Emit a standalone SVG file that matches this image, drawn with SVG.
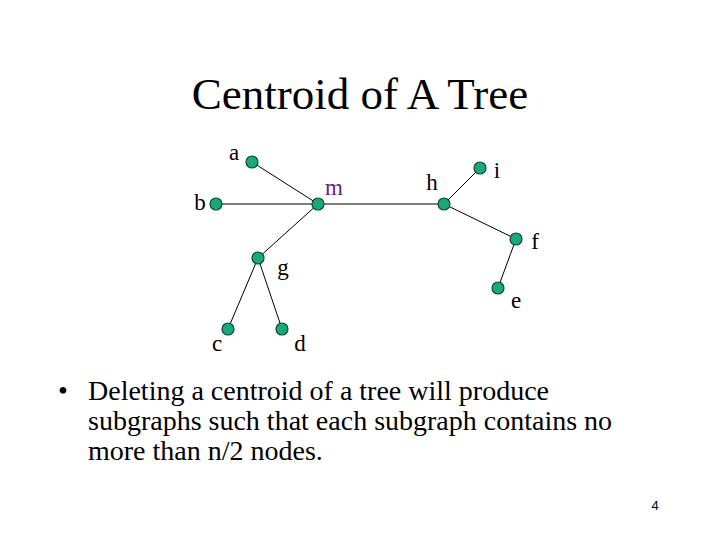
<svg xmlns="http://www.w3.org/2000/svg" width="720" height="540" viewBox="0 0 720 540">
<style>
.t{font-family:"Liberation Serif","Times New Roman",serif;fill:#000}
.lbl{font-size:23px}
.n{fill:#1aa97c;stroke:#0a4a32;stroke-width:1.2}
.e{stroke:#000;stroke-width:1;fill:none}
</style>
<rect width="720" height="540" fill="#fff"/>
<text class="t" x="360" y="109" font-size="45" text-anchor="middle">Centroid of A Tree</text>
<g id="edges">
<line class="e" x1="252" y1="162" x2="318" y2="204"/>
<line class="e" x1="216" y1="204" x2="318" y2="204"/>
<line class="e" x1="318" y1="204" x2="258" y2="258"/>
<line class="e" x1="318" y1="204" x2="444" y2="204"/>
<line class="e" x1="444" y1="204" x2="480" y2="168"/>
<line class="e" x1="444" y1="204" x2="516" y2="239"/>
<line class="e" x1="516" y1="239" x2="498" y2="288"/>
<line class="e" x1="258" y1="258" x2="228" y2="329"/>
<line class="e" x1="258" y1="258" x2="282" y2="329"/>
</g>
<g id="a"><circle class="n" cx="252" cy="162" r="6"/><text class="t lbl" x="234" y="160" text-anchor="middle">a</text></g>
<g id="b"><circle class="n" cx="216" cy="204" r="6"/><text class="t lbl" x="200" y="210" text-anchor="middle">b</text></g>
<g id="m"><circle class="n" cx="318" cy="204" r="6"/><text class="t lbl" x="334" y="195" text-anchor="middle" style="fill:#6b1f7a">m</text></g>
<g id="h"><circle class="n" cx="444" cy="204" r="6"/><text class="t lbl" x="432" y="190" text-anchor="middle">h</text></g>
<g id="i"><circle class="n" cx="480" cy="168" r="6"/><text class="t lbl" x="497" y="178" text-anchor="middle">i</text></g>
<g id="f"><circle class="n" cx="516" cy="239" r="6"/><text class="t lbl" x="535" y="249" text-anchor="middle">f</text></g>
<g id="g"><circle class="n" cx="258" cy="258" r="6"/><text class="t lbl" x="283" y="275" text-anchor="middle">g</text></g>
<g id="e"><circle class="n" cx="498" cy="288" r="6"/><text class="t lbl" x="516" y="308" text-anchor="middle">e</text></g>
<g id="c"><circle class="n" cx="228" cy="329" r="6"/><text class="t lbl" x="217" y="351" text-anchor="middle">c</text></g>
<g id="d"><circle class="n" cx="282" cy="329" r="6"/><text class="t lbl" x="300" y="351" text-anchor="middle">d</text></g>
<g id="bullet" class="t" font-size="28">
<text x="58" y="400">•</text>
<text x="88" y="400">Deleting a centroid of a tree will produce</text>
<text x="88" y="430">subgraphs such that each subgraph contains no</text>
<text x="88" y="460">more than n/2 nodes.</text>
</g>
<text x="655" y="510" font-family="Liberation Sans,Arial,sans-serif" font-size="13" text-anchor="middle">4</text>
</svg>
